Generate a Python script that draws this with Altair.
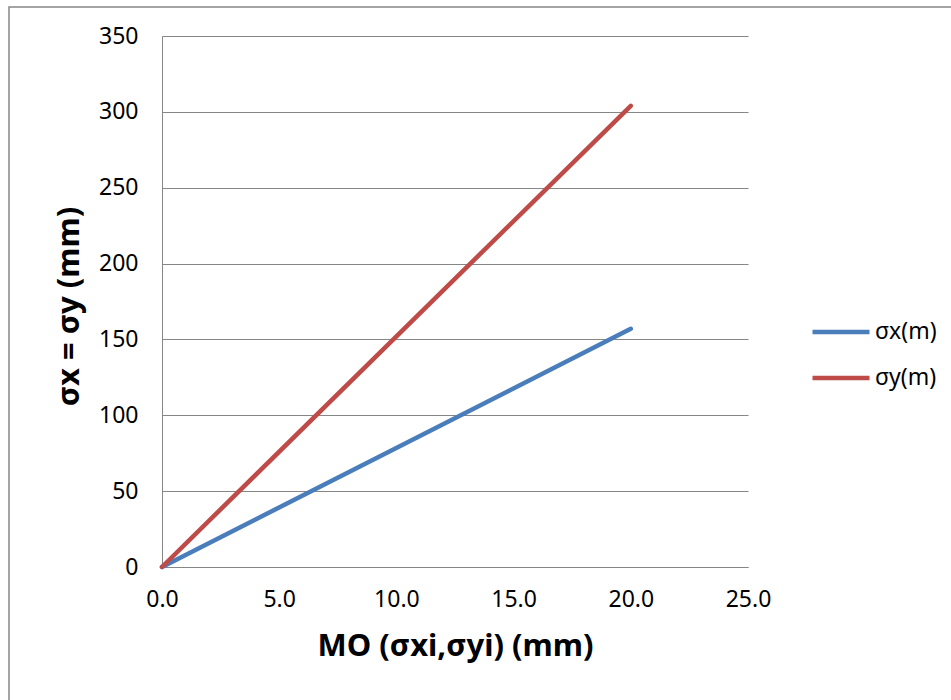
import altair as alt
import pandas as pd

x_vals = [0.0, 20.0]
sx_vals = [0.0, 157.0]
sy_vals = [0.0, 304.0]
series = ["σx(m)", "σy(m)"]
colors = ["#4A7EBB", "#BE4B48"]
x_ticks = [0, 5, 10, 15, 20, 25]
y_ticks = [0, 50, 100, 150, 200, 250, 300, 350]

df = pd.DataFrame({
    "x": x_vals + x_vals,
    "y": sx_vals + sy_vals,
    "s": [series[0]] * len(x_vals) + [series[1]] * len(x_vals),
})

font = "Noto Sans"
grey = "#868686"

lines = alt.Chart(df).mark_line(strokeWidth=4.5, strokeCap="round").encode(
    x=alt.X("x:Q", scale=alt.Scale(domain=[0, 25], nice=False),
            axis=alt.Axis(values=x_ticks, format=".1f", title="MO (σxi,σyi) (mm)",
                          grid=False, ticks=False, domainColor=grey, labelFlush=False,
                          labelFontSize=23, labelPadding=21, labelColor="#000",
                          titleFontSize=31, titleFontWeight="bold", titleColor="#000",
                          titleY=79, titleBaseline="middle")),
    y=alt.Y("y:Q", scale=alt.Scale(domain=[0, 350], nice=False),
            axis=alt.Axis(values=y_ticks, title="σx = σy (mm)",
                          grid=True, gridColor=grey, gridWidth=1, ticks=False,
                          domainColor=grey, labelFontSize=23, labelPadding=24,
                          labelColor="#000",
                          titleFontSize=31, titleFontWeight="bold", titleColor="#000",
                          titleX=-93, titleY=270, titleBaseline="middle")),
    color=alt.Color("s:N", scale=alt.Scale(domain=series, range=colors),
                    legend=alt.Legend(title=None, orient="none", legendX=648, legendY=265,
                                      symbolType="stroke", symbolSize=3249,
                                      symbolStrokeWidth=4.5, labelFontSize=23,
                                      labelOffset=3, rowPadding=3, labelColor="#000")),
)

frame = alt.Chart(pd.DataFrame({"a": [0]})).mark_rect(
    fill=None, stroke=grey, strokeWidth=1.5
).encode(
    x=alt.value(-153), x2=alt.value(820), y=alt.value(-29), y2=alt.value(700)
)

chart = alt.layer(frame, lines).properties(
    width=586, height=531,
    autosize=alt.AutoSizeParams(type="none"),
    padding={"left": 162, "top": 36, "right": 203, "bottom": 133},
).configure(font=font).configure_view(stroke=None)

chart.save("out.html", embed_options={"renderer": "svg", "actions": False})
